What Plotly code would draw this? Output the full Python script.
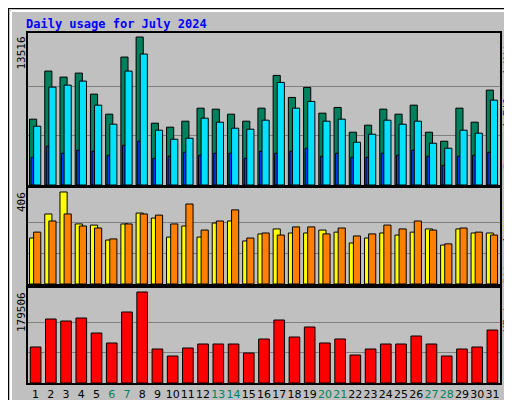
import plotly.graph_objects as go

days = list(range(1, 32))
hits = [6012,10404,9855,10221,8299,6469,11685,13516,5646,5280,5829,7018,6927,6469,5829,7018,
        10010,7997,8912,6561,7082,4822,5463,6927,6469,7293,4822,3999,7018,5737,8665]
files = [5371,8940,9123,9489,7293,5554,10404,11959,5005,4182,4273,6103,5737,5188,5097,5920,
         9370,7018,7631,5829,6012,3907,4639,5920,5554,5829,3816,3358,5005,4731,7750]
pages = [2535,3541,2901,3175,3084,2718,3633,3999,2443,2626,2992,2718,2901,2901,2443,3084,
         2901,3084,3358,2626,2901,2535,2535,2901,2718,3175,2626,1803,2626,2718,2992]
visits = [203,309,406,265,260,194,265,313,291,207,256,207,269,278,190,221,
          243,225,225,238,229,181,203,225,216,229,243,172,243,225,225]
sites = [229,278,309,256,247,199,265,309,304,265,353,238,278,327,203,225,
         216,252,252,221,247,212,221,260,243,278,238,177,247,229,216]
kbytes = [71014,126246,122301,128219,98630,78904,140055,179506,67068,53260,69041,76932,76932,76932,59178,86794,
          124274,90740,110466,78904,86794,55233,67068,76932,76932,92712,76932,53260,67068,71014,104548]
weekend = [6,7,13,14,20,21,27,28]

BG = "#C0C0C0"
fig = go.Figure()
line = dict(color="black", width=1)
fig.add_bar(x=days, y=hits, width=0.47, offset=-0.4, marker=dict(color="#00805C", line=line), xaxis="x", yaxis="y")
fig.add_bar(x=days, y=pages, width=0.2, offset=-0.3, marker=dict(color="#0040FF", line=line), xaxis="x", yaxis="y")
fig.add_bar(x=days, y=files, width=0.47, offset=-0.13, marker=dict(color="#00E0FF", line=line), xaxis="x", yaxis="y")
fig.add_bar(x=days, y=visits, width=0.47, offset=-0.4, marker=dict(color="#FFFF00", line=line), xaxis="x2", yaxis="y2")
fig.add_bar(x=days, y=sites, width=0.47, offset=-0.13, marker=dict(color="#FF8000", line=line), xaxis="x2", yaxis="y2")
fig.add_bar(x=days, y=kbytes, width=0.7, offset=-0.35, marker=dict(color="#FF0000", line=line), xaxis="x3", yaxis="y3")

xd = [20/512, 492/512]
xcommon = dict(domain=xd, range=[0.5, 31.5], showgrid=False, zeroline=False, showline=True,
               linecolor="black", linewidth=2, mirror=True, ticks="", fixedrange=True)
ticktext = [f'<span style="color:#00805C">{d}</span>' if d in weekend else str(d) for d in days]
fig.update_layout(
    width=512, height=400, margin=dict(l=0, r=0, t=0, b=0),
    paper_bgcolor=BG, plot_bgcolor=BG, showlegend=False, barmode="overlay",
    font=dict(family="DejaVu Sans", size=11, color="black"),
    xaxis=dict(**xcommon, anchor="y", showticklabels=False),
    xaxis2=dict(**xcommon, anchor="y2", showticklabels=False),
    xaxis3=dict(**xcommon, anchor="y3", tickvals=days, ticktext=ticktext, tickangle=0,
                tickfont=dict(size=11), automargin=False),
)
def yax(dom, mx, top):
    return dict(domain=dom, range=[0, top], tickvals=[mx/3, 2*mx/3], showticklabels=False,
                gridcolor="#808080", gridwidth=1, zeroline=False, showline=True, linecolor="black",
                linewidth=2, mirror=True, fixedrange=True)
fig.update_layout(
    yaxis=yax([1-177/400, 1-25/400], max(hits), max(hits)*151.7/147.7),
    yaxis2=yax([1-276/400, 1-180/400], max(visits), max(visits)*96/92),
    yaxis3=yax([1-375/400, 1-280/400], max(kbytes), max(kbytes)*95/91),
)
mono = "DejaVu Sans Mono"
anns = [
    dict(text="<b>Daily usage for July 2024</b>", x=16/512, y=1-16/400, xanchor="left", yanchor="middle",
         font=dict(family=mono, size=12, color="#0000FF")),
    dict(text=str(max(hits)), x=13/512, y=1-27/400, textangle=-90, yanchor="top", font=dict(family=mono, size=11)),
    dict(text=str(max(visits)), x=13/512, y=1-182/400, textangle=-90, yanchor="top", font=dict(family=mono, size=11)),
    dict(text=str(max(kbytes)), x=13/512, y=1-282/400, textangle=-90, yanchor="top", font=dict(family=mono, size=11)),
    dict(text='<span style="color:#00C0E0">Pages</span> / <span style="color:#0000FF">Files</span> / <span style="color:#00805C">Hits</span>',
         x=499/512, y=1-27/400, textangle=-90, yanchor="top", font=dict(family=mono, size=11)),
    dict(text='<span style="color:#FF8000">Sites</span> / <span style="color:#E0E000">Visits</span>',
         x=499/512, y=1-182/400, textangle=-90, yanchor="top", font=dict(family=mono, size=11)),
    dict(text='<span style="color:#FF0000">KBytes</span>',
         x=499/512, y=1-282/400, textangle=-90, yanchor="top", font=dict(family=mono, size=11)),
]
for a in anns:
    a.setdefault("showarrow", False)
    a.update(xref="paper", yref="paper")
    if "xanchor" not in a:
        a["xanchor"] = "center"
fig.update_layout(annotations=anns)
sh = dict(xref="paper", yref="paper", layer="below")
fig.update_layout(shapes=[
    dict(type="rect", x0=0, x1=1, y0=0, y1=1, line=dict(color="black", width=2), **sh),
    dict(type="line", x0=3/512, x1=3/512, y0=8/400, y1=1-3/400, line=dict(color="white", width=2), **sh),
    dict(type="line", x0=3/512, x1=1-8/512, y0=1-3/400, y1=1-3/400, line=dict(color="white", width=2), **sh),
    dict(type="line", x0=1-5/512, x1=1-5/512, y0=5/400, y1=1-3/400, line=dict(color="#808080", width=6), **sh),
    dict(type="line", x0=3/512, x1=1-3/512, y0=5/400, y1=5/400, line=dict(color="#808080", width=6), **sh),
])
fig.write_html("out.html")
